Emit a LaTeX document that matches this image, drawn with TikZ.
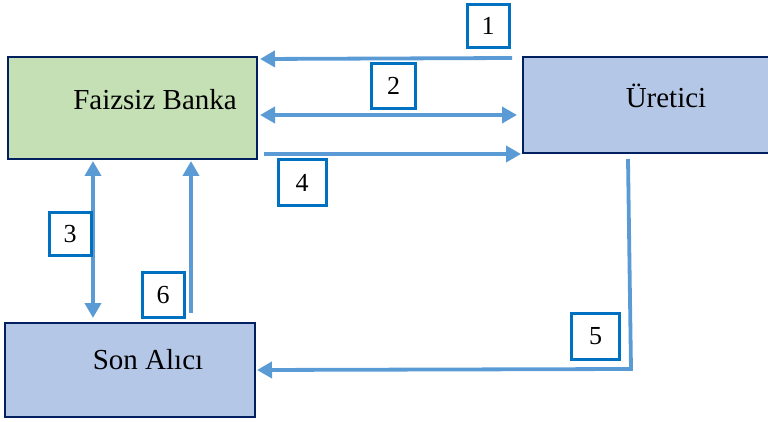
\documentclass[tikz,border=0pt]{standalone}
\usepackage{fontspec}
\setmainfont{Liberation Serif}
\usetikzlibrary{arrows.meta}
\definecolor{bankfill}{HTML}{C5E0B4}
\definecolor{bluefill}{HTML}{B4C7E7}
\definecolor{navy}{HTML}{002060}
\definecolor{arrowblue}{HTML}{5B9BD5}
\definecolor{labelblue}{HTML}{0070C0}
\tikzset{
  party/.style={draw=navy, line width=2.8pt, inner sep=0pt},
  ptext/.style={font=\fontsize{29}{33}\selectfont},
  numbox/.style={draw=labelblue, line width=3pt, fill=white, inner sep=0pt, font=\fontsize{26}{30}\selectfont},
  flow/.style={draw=arrowblue, line width=3.8pt, -{Triangle[length=15pt,width=16pt]}},
  flow2/.style={draw=arrowblue, line width=3.8pt, {Triangle[length=15pt,width=16pt]}-{Triangle[length=15pt,width=16pt]}},
}
\begin{document}
\begin{tikzpicture}[x=1pt,y=-1pt]
\useasboundingbox (0,0) rectangle (768,422);
% main boxes
\node[party, fill=bankfill, minimum width=249pt, minimum height=102pt] (bank) at (132.5,108) {};
\node[ptext] (banktxt) at (155,100) {Faizsiz Banka};
\node[party, fill=bluefill, minimum width=250pt, minimum height=96pt] (ur) at (648,105) {};
\node[ptext] (urtxt) at (666,96) {Üretici};
\node[party, fill=bluefill, minimum width=250pt, minimum height=94pt] (son) at (130,370) {};
\node[ptext] (sontxt) at (148,360) {Son Alıcı};
% coordinates for connectors
\coordinate (a1s) at (512,58);
\coordinate (a1e) at (260,59);
\coordinate (a2s) at (260,115);
\coordinate (a2e) at (517,115);
\coordinate (a4s) at (264,154);
\coordinate (a4e) at (521,154);
\coordinate (a3s) at (93,161);
\coordinate (a3e) at (93,318);
\coordinate (a6s) at (191,313);
\coordinate (a6e) at (191,161);
\coordinate (a5s) at (628,159);
\coordinate (a5c) at (631,369);
\coordinate (a5e) at (257,370);
% connectors
\draw[flow] (a1s) -- (a1e);
\draw[flow2] (a2s) -- (a2e);
\draw[flow] (a4s) -- (a4e);
\draw[flow2] (a3s) -- (a3e);
\draw[flow] (a6s) -- (a6e);
\draw[flow] (a5s) -- (a5c) -- (a5e);
% number labels
\node[numbox, minimum width=42pt, minimum height=43pt] (n1) at (488,26) {1};
\node[numbox, minimum width=44pt, minimum height=45pt] (n2) at (393.5,86) {2};
\node[numbox, minimum width=48pt, minimum height=46pt] (n4) at (302,182.5) {4};
\node[numbox, minimum width=42pt, minimum height=43pt] (n3) at (70,234) {3};
\node[numbox, minimum width=42pt, minimum height=45pt] (n6) at (163,295) {6};
\node[numbox, minimum width=48pt, minimum height=46pt] (n5) at (595.5,336.5) {5};
\end{tikzpicture}
\end{document}
